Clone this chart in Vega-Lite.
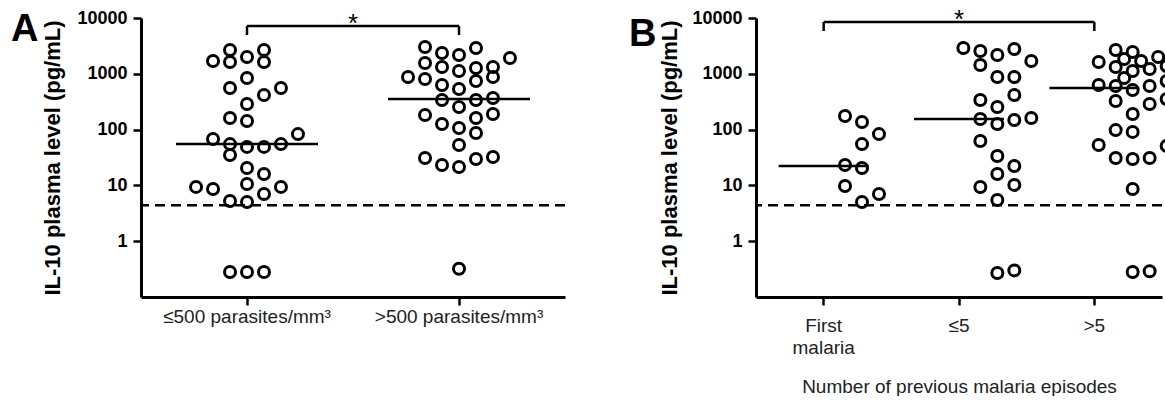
{
  "$schema": "https://vega.github.io/schema/vega-lite/v6.json",
  "background": "white",
  "padding": {"left": 11, "top": 6, "right": 0, "bottom": 0},
  "config": {
    "font": "Liberation Sans",
    "view": {"stroke": null},
    "axis": {"domainColor": "black", "domainWidth": 3, "tickColor": "black", "tickWidth": 2.5, "tickSize": 8, "grid": false, "labelColor": "black", "titleColor": "black"},
    "concat": {"spacing": 62}
  },
  "hconcat": [
    {
      "width": 424,
      "height": 279,
      "title": {"text": "A", "orient": "left", "anchor": "end", "frame": "group", "angle": 0, "align": "right", "baseline": "top", "fontSize": 38, "fontWeight": "bold", "font": "Liberation Sans", "offset": -24, "dy": -7},
      "layer": [
        {
          "data": {"values": [{"lod": 4.4}]},
          "mark": {"type": "rule", "strokeDash": [10, 6], "strokeWidth": 2.5, "color": "black"},
          "encoding": {"y": {"field": "lod", "type": "quantitative"}}
        },
        {
          "data": {"values": [
            {"g": "≤500 parasites/mm³", "s": -2, "v": 1695},
            {"g": "≤500 parasites/mm³", "s": -1, "v": 2670},
            {"g": "≤500 parasites/mm³", "s": -1, "v": 1625},
            {"g": "≤500 parasites/mm³", "s": 0, "v": 2000},
            {"g": "≤500 parasites/mm³", "s": 1, "v": 2670},
            {"g": "≤500 parasites/mm³", "s": 1, "v": 1625},
            {"g": "≤500 parasites/mm³", "s": 0, "v": 841},
            {"g": "≤500 parasites/mm³", "s": -1, "v": 557},
            {"g": "≤500 parasites/mm³", "s": 2, "v": 557},
            {"g": "≤500 parasites/mm³", "s": 1, "v": 417},
            {"g": "≤500 parasites/mm³", "s": 0, "v": 288},
            {"g": "≤500 parasites/mm³", "s": -1, "v": 161},
            {"g": "≤500 parasites/mm³", "s": 0, "v": 143},
            {"g": "≤500 parasites/mm³", "s": -2, "v": 68},
            {"g": "≤500 parasites/mm³", "s": 3, "v": 83},
            {"g": "≤500 parasites/mm³", "s": -1, "v": 55},
            {"g": "≤500 parasites/mm³", "s": 0, "v": 49},
            {"g": "≤500 parasites/mm³", "s": 1, "v": 49},
            {"g": "≤500 parasites/mm³", "s": 2, "v": 55},
            {"g": "≤500 parasites/mm³", "s": -1, "v": 35},
            {"g": "≤500 parasites/mm³", "s": 0, "v": 20.5},
            {"g": "≤500 parasites/mm³", "s": 1, "v": 16},
            {"g": "≤500 parasites/mm³", "s": -3, "v": 9.4},
            {"g": "≤500 parasites/mm³", "s": -2, "v": 8.6},
            {"g": "≤500 parasites/mm³", "s": 0, "v": 10.6},
            {"g": "≤500 parasites/mm³", "s": 2, "v": 9.4},
            {"g": "≤500 parasites/mm³", "s": 1, "v": 7.0},
            {"g": "≤500 parasites/mm³", "s": -1, "v": 5.25},
            {"g": "≤500 parasites/mm³", "s": 0, "v": 5.05},
            {"g": "≤500 parasites/mm³", "s": -1, "v": 0.28},
            {"g": "≤500 parasites/mm³", "s": 0, "v": 0.28},
            {"g": "≤500 parasites/mm³", "s": 1, "v": 0.28},
            {"g": ">500 parasites/mm³", "s": -2, "v": 3020},
            {"g": ">500 parasites/mm³", "s": -1, "v": 2360},
            {"g": ">500 parasites/mm³", "s": 0, "v": 2170},
            {"g": ">500 parasites/mm³", "s": 1, "v": 2900},
            {"g": ">500 parasites/mm³", "s": 3, "v": 1920},
            {"g": ">500 parasites/mm³", "s": -2, "v": 1563},
            {"g": ">500 parasites/mm³", "s": -1, "v": 1325},
            {"g": ">500 parasites/mm³", "s": 0, "v": 1122},
            {"g": ">500 parasites/mm³", "s": 1, "v": 1270},
            {"g": ">500 parasites/mm³", "s": 2, "v": 1325},
            {"g": ">500 parasites/mm³", "s": -3, "v": 877},
            {"g": ">500 parasites/mm³", "s": -2, "v": 807},
            {"g": ">500 parasites/mm³", "s": -1, "v": 630},
            {"g": ">500 parasites/mm³", "s": 0, "v": 535},
            {"g": ">500 parasites/mm³", "s": 1, "v": 743},
            {"g": ">500 parasites/mm³", "s": 2, "v": 877},
            {"g": ">500 parasites/mm³", "s": -1, "v": 339},
            {"g": ">500 parasites/mm³", "s": 0, "v": 254},
            {"g": ">500 parasites/mm³", "s": 1, "v": 339},
            {"g": ">500 parasites/mm³", "s": 2, "v": 368},
            {"g": ">500 parasites/mm³", "s": -2, "v": 183},
            {"g": ">500 parasites/mm³", "s": -1, "v": 126},
            {"g": ">500 parasites/mm³", "s": 0, "v": 107},
            {"g": ">500 parasites/mm³", "s": 1, "v": 161},
            {"g": ">500 parasites/mm³", "s": 2, "v": 190},
            {"g": ">500 parasites/mm³", "s": 1, "v": 87},
            {"g": ">500 parasites/mm³", "s": 0, "v": 53},
            {"g": ">500 parasites/mm³", "s": -2, "v": 31},
            {"g": ">500 parasites/mm³", "s": -1, "v": 23.2},
            {"g": ">500 parasites/mm³", "s": 0, "v": 21.4},
            {"g": ">500 parasites/mm³", "s": 1, "v": 29.7},
            {"g": ">500 parasites/mm³", "s": 2, "v": 32.3},
            {"g": ">500 parasites/mm³", "s": 0, "v": 0.32}
          ]},
          "mark": {"type": "point", "shape": "circle", "filled": false, "stroke": "black", "strokeWidth": 3, "size": 121, "opacity": 1},
          "encoding": {
            "x": {"field": "g", "type": "nominal", "scale": {"domain": ["≤500 parasites/mm³", ">500 parasites/mm³"], "paddingInner": 0, "paddingOuter": 0},
              "axis": {"title": null, "labelAngle": 0, "labelFontSize": 19, "labelColor": "#222", "labelPadding": 2}},
            "xOffset": {"field": "s", "type": "quantitative", "scale": {"domain": [-6.24, 6.24]}},
            "y": {"field": "v", "type": "quantitative", "scale": {"type": "log", "domain": [0.1, 10000]},
              "axis": {"title": "IL-10 plasma level (pg/mL)", "values": [1, 10, 100, 1000, 10000], "format": "d", "labelFontSize": 18, "labelFontWeight": "bold", "labelPadding": 6, "titleFontSize": 22, "titleFontWeight": "bold", "titlePadding": 12}}
          }
        },
        {
          "data": {"values": [
            {"g": "≤500 parasites/mm³", "median": 55},
            {"g": ">500 parasites/mm³", "median": 353}
          ]},
          "mark": {"type": "tick", "color": "black", "opacity": 1, "thickness": 2.5, "size": 142},
          "encoding": {
            "x": {"field": "g", "type": "nominal"},
            "y": {"field": "median", "type": "quantitative"}
          }
        },
        {
          "data": {"values": [
            {"a": "≤500 parasites/mm³", "b": ">500 parasites/mm³", "top": 7200, "bot": 7200},
            {"a": "≤500 parasites/mm³", "b": "≤500 parasites/mm³", "top": 7200, "bot": 4950},
            {"a": ">500 parasites/mm³", "b": ">500 parasites/mm³", "top": 7200, "bot": 4950}
          ]},
          "mark": {"type": "rule", "color": "black", "strokeWidth": 2.5},
          "encoding": {
            "x": {"field": "a", "type": "nominal"},
            "x2": {"field": "b"},
            "y": {"field": "top", "type": "quantitative"},
            "y2": {"field": "bot"}
          }
        },
        {
          "data": {"values": [{"a": "≤500 parasites/mm³", "top": 7200, "label": "*"}]},
          "mark": {"type": "text", "fontSize": 26, "color": "black", "baseline": "alphabetic", "dy": 6},
          "encoding": {
            "x": {"field": "a", "type": "nominal", "bandPosition": 1},
            "y": {"field": "top", "type": "quantitative"},
            "text": {"field": "label"}
          }
        }
      ]
    },
    {
      "width": 406,
      "height": 279,
      "title": {"text": "B", "orient": "left", "anchor": "end", "frame": "group", "angle": 0, "align": "right", "baseline": "top", "fontSize": 38, "fontWeight": "bold", "font": "Liberation Sans", "offset": -25, "dy": -2},
      "layer": [
        {
          "data": {"values": [{"lod": 4.4}]},
          "mark": {"type": "rule", "strokeDash": [10, 6], "strokeWidth": 2.5, "color": "black"},
          "encoding": {"y": {"field": "lod", "type": "quantitative"}}
        },
        {
          "data": {"values": [
            {"g": "First malaria", "s": -1, "v": 175},
            {"g": "First malaria", "s": 0, "v": 137},
            {"g": "First malaria", "s": 1, "v": 83},
            {"g": "First malaria", "s": 0, "v": 55},
            {"g": "First malaria", "s": -1, "v": 23.2},
            {"g": "First malaria", "s": 0, "v": 20.5},
            {"g": "First malaria", "s": -1, "v": 9.75},
            {"g": "First malaria", "s": 1, "v": 7.0},
            {"g": "First malaria", "s": 0, "v": 5.05},
            {"g": "≤5", "s": -2, "v": 2900},
            {"g": "≤5", "s": -1, "v": 2570},
            {"g": "≤5", "s": 0, "v": 2170},
            {"g": "≤5", "s": 1, "v": 2780},
            {"g": "≤5", "s": 2, "v": 1700},
            {"g": "≤5", "s": -1, "v": 1440},
            {"g": "≤5", "s": 0, "v": 877},
            {"g": "≤5", "s": 1, "v": 877},
            {"g": "≤5", "s": -1, "v": 339},
            {"g": "≤5", "s": 1, "v": 417},
            {"g": "≤5", "s": 0, "v": 254},
            {"g": "≤5", "s": -1, "v": 155},
            {"g": "≤5", "s": 0, "v": 126},
            {"g": "≤5", "s": 1, "v": 149},
            {"g": "≤5", "s": 2, "v": 161},
            {"g": "≤5", "s": -1, "v": 62.5},
            {"g": "≤5", "s": 0, "v": 33.7},
            {"g": "≤5", "s": 1, "v": 22.3},
            {"g": "≤5", "s": 0, "v": 16},
            {"g": "≤5", "s": -1, "v": 9.35},
            {"g": "≤5", "s": 1, "v": 10.2},
            {"g": "≤5", "s": 0, "v": 5.5},
            {"g": "≤5", "s": 0, "v": 0.27},
            {"g": "≤5", "s": 1, "v": 0.30},
            {"g": ">5", "s": -1, "v": 2670},
            {"g": ">5", "s": 0, "v": 2460},
            {"g": ">5", "s": -2, "v": 1625},
            {"g": ">5", "s": -0.5, "v": 1840},
            {"g": ">5", "s": 0.5, "v": 1700},
            {"g": ">5", "s": 1.5, "v": 2000},
            {"g": ">5", "s": -1, "v": 1325},
            {"g": ">5", "s": 0, "v": 1122},
            {"g": ">5", "s": 1, "v": 1220},
            {"g": ">5", "s": 2, "v": 1380},
            {"g": ">5", "s": -0.5, "v": 841},
            {"g": ">5", "s": 2, "v": 743},
            {"g": ">5", "s": -2, "v": 630},
            {"g": ">5", "s": -1, "v": 604},
            {"g": ">5", "s": 0, "v": 513},
            {"g": ">5", "s": 1, "v": 604},
            {"g": ">5", "s": -1, "v": 326},
            {"g": ">5", "s": 1, "v": 288},
            {"g": ">5", "s": 2, "v": 353},
            {"g": ">5", "s": 0, "v": 190},
            {"g": ">5", "s": -1, "v": 98},
            {"g": ">5", "s": 0, "v": 91},
            {"g": ">5", "s": -2, "v": 53},
            {"g": ">5", "s": 2, "v": 51},
            {"g": ">5", "s": -1, "v": 31},
            {"g": ">5", "s": 0, "v": 29.7},
            {"g": ">5", "s": 1, "v": 31},
            {"g": ">5", "s": 0, "v": 8.6},
            {"g": ">5", "s": 0, "v": 0.28},
            {"g": ">5", "s": 1, "v": 0.29}
          ]},
          "mark": {"type": "point", "shape": "circle", "filled": false, "stroke": "black", "strokeWidth": 3, "size": 121, "opacity": 1},
          "encoding": {
            "x": {"field": "g", "type": "nominal", "scale": {"domain": ["First malaria", "≤5", ">5"], "paddingInner": 0, "paddingOuter": 0},
              "axis": {"title": "Number of previous malaria episodes", "labelAngle": 0, "labelFontSize": 19, "labelColor": "#222", "labelPadding": 11, "labelLineHeight": 22,
                "labelExpr": "datum.label == 'First malaria' ? ['First', 'malaria'] : datum.label",
                "titleFontSize": 19, "titleFontWeight": "normal", "titleColor": "#222", "titlePadding": 20}},
            "xOffset": {"field": "s", "type": "quantitative", "scale": {"domain": [-4.1, 4.1]}},
            "y": {"field": "v", "type": "quantitative", "scale": {"type": "log", "domain": [0.1, 10000]},
              "axis": {"title": "IL-10 plasma level (pg/mL)", "values": [1, 10, 100, 1000, 10000], "format": "d", "labelFontSize": 18, "labelFontWeight": "bold", "labelPadding": 6, "titleFontSize": 22, "titleFontWeight": "bold", "titlePadding": 10}}
          }
        },
        {
          "data": {"values": [
            {"g": "First malaria", "median": 22.3},
            {"g": "≤5", "median": 155},
            {"g": ">5", "median": 557}
          ]},
          "mark": {"type": "tick", "color": "black", "opacity": 1, "thickness": 2.5, "size": 90},
          "encoding": {
            "x": {"field": "g", "type": "nominal"},
            "y": {"field": "median", "type": "quantitative"}
          }
        },
        {
          "data": {"values": [
            {"a": "First malaria", "b": ">5", "top": 8480, "bot": 8480},
            {"a": "First malaria", "b": "First malaria", "top": 8480, "bot": 5850},
            {"a": ">5", "b": ">5", "top": 8480, "bot": 5850}
          ]},
          "mark": {"type": "rule", "color": "black", "strokeWidth": 2.5},
          "encoding": {
            "x": {"field": "a", "type": "nominal"},
            "x2": {"field": "b"},
            "y": {"field": "top", "type": "quantitative"},
            "y2": {"field": "bot"}
          }
        },
        {
          "data": {"values": [{"a": "≤5", "top": 8480, "label": "*"}]},
          "mark": {"type": "text", "fontSize": 26, "color": "black", "baseline": "alphabetic", "dy": 6},
          "encoding": {
            "x": {"field": "a", "type": "nominal"},
            "y": {"field": "top", "type": "quantitative"},
            "text": {"field": "label"}
          }
        }
      ]
    }
  ]
}
